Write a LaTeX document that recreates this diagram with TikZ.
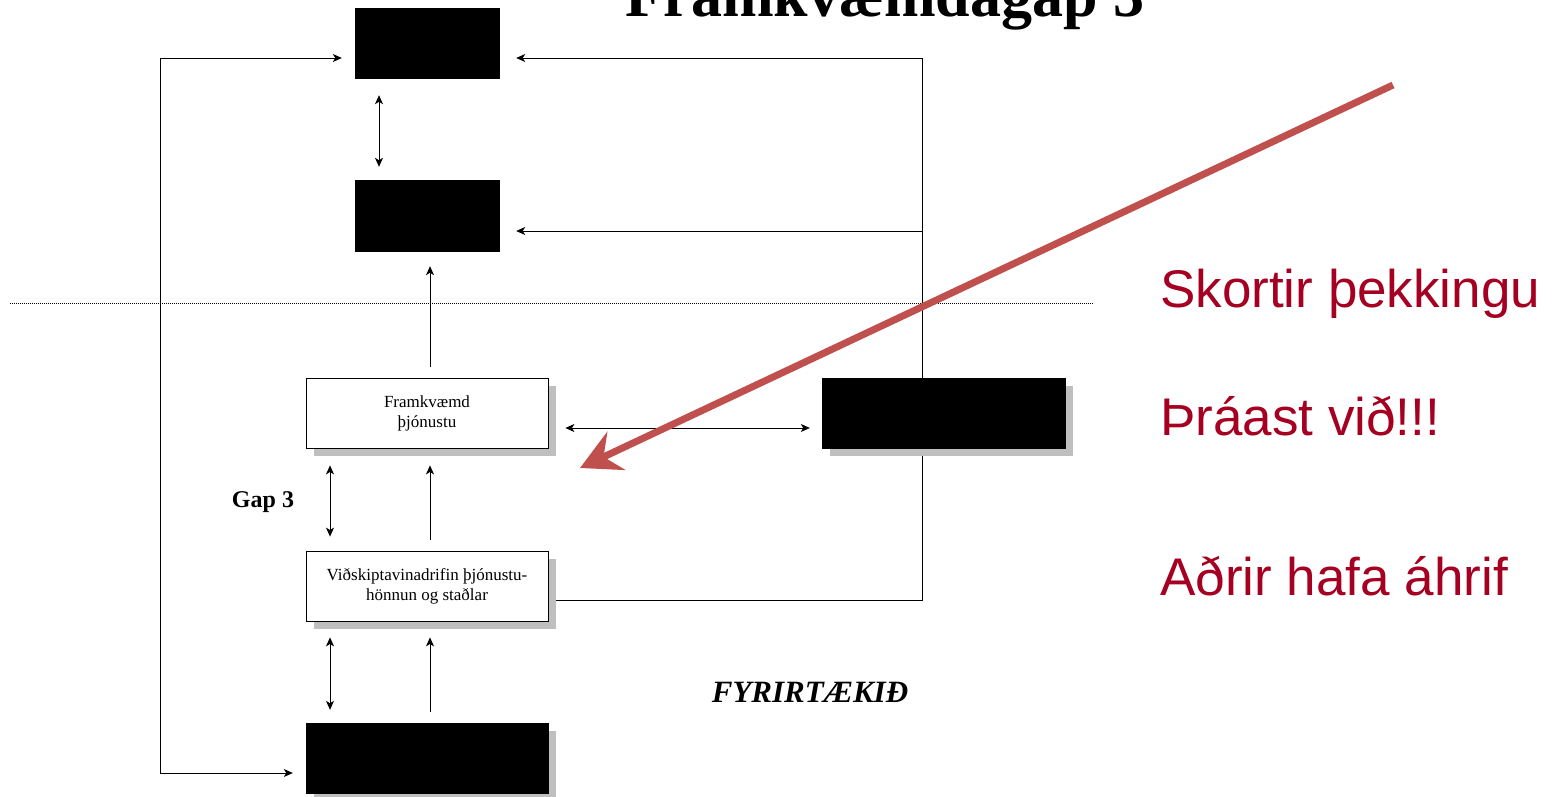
\documentclass[tikz,border=0pt]{standalone}
\usepackage{fontspec}
\setmainfont{Liberation Serif}
\newfontfamily\arialf{Liberation Sans}
\usetikzlibrary{arrows.meta,shadows}
\definecolor{redtxt}{RGB}{165,0,33}
\definecolor{redarr}{RGB}{192,80,77}
\definecolor{shadowgray}{RGB}{191,191,191}
\pgfdeclarelayer{bg}
\pgfsetlayers{bg,main}
\begin{document}
\begin{tikzpicture}[x=1pt,y=-1pt,
  arr/.style={-{Stealth[length=9pt,width=8pt,inset=2.5pt]}, line width=0.8pt},
  dbl/.style={{Stealth[length=9pt,width=8pt,inset=2.5pt]}-{Stealth[length=9pt,width=8pt,inset=2.5pt]}, line width=0.8pt},
  blackbox/.style={draw=black, fill=black, inner sep=0pt},
  whitebox/.style={draw=black, fill=white, line width=0.8pt, align=center, font=\fontsize{17}{20}\selectfont, inner sep=0pt},
  shad/.style={drop shadow={shadow xshift=8pt, shadow yshift=-8pt, fill=shadowgray, opacity=1}},
  redlabel/.style={anchor=base west, text=redtxt, font=\arialf\fontsize{53}{60}\selectfont, inner sep=0pt}
]
\useasboundingbox (0,0) rectangle (1555,797);

% title (cut off at top, as in the reference)
\node[anchor=base, font=\bfseries\fontsize{62}{70}\selectfont, inner sep=0pt] (title) at (885,17) {Framkvæmdagap 3};

% boxes
\node[blackbox, minimum width=144pt, minimum height=70pt] (A) at (427,43) {};
\node[blackbox, minimum width=144pt, minimum height=71pt] (B) at (427,215.5) {};
\node[whitebox, shad, minimum width=242pt, minimum height=70pt] (FR) at (427,413) {Framkvæmd\\þjónustu};
\node[whitebox, shad, minimum width=242pt, minimum height=70pt] (VI) at (427,586) {Viðskiptavinadrifin þjónustu-\\hönnun og staðlar};
\node[blackbox, shad, minimum width=242pt, minimum height=70pt] (D) at (427,758) {};
\node[blackbox, shad, minimum width=243pt, minimum height=70pt] (C) at (943.5,413) {};

% loop coordinates
\coordinate (RT) at (922,58);
\coordinate (RM) at (922,231);
\coordinate (RB) at (922,600);
\coordinate (LT) at (160,58);
\coordinate (LB) at (160,773);
\coordinate (DL) at (10,303);
\coordinate (DR) at (1093,303);

\begin{pgfonlayer}{bg}
\draw[arr] ([yshift=-14pt]VI.east) -- (RB) -- (RT) -- ([xshift=17pt,yshift=-15pt]A.east);
\draw[arr] (RM) -- ([xshift=17pt,yshift=-15.5pt]B.east);
\draw[dbl] ([xshift=-13pt,yshift=-15pt]A.west) -- (LT) -- (LB) -- ([xshift=-13pt,yshift=-15pt]D.west);
\draw[line width=0.6pt, dash pattern=on 1pt off 1pt] (DL) -- (DR);
\end{pgfonlayer}

% vertical connectors
\draw[dbl] ([xshift=-48pt,yshift=-17pt]A.south) -- ([xshift=-48pt,yshift=13pt]B.north);
\draw[arr] ([xshift=3pt,yshift=11pt]FR.north) -- ([xshift=3pt,yshift=-15pt]B.south);
\draw[dbl] ([xshift=17pt,yshift=-15pt]FR.east) -- ([xshift=-12pt,yshift=-15pt]C.west);
\draw[dbl] ([xshift=-97pt,yshift=-17pt]FR.south) -- ([xshift=-97pt,yshift=14pt]VI.north);
\draw[arr] ([xshift=3pt,yshift=11pt]VI.north) -- ([xshift=3pt,yshift=-17pt]FR.south);
\draw[dbl] ([xshift=-97pt,yshift=-16pt]VI.south) -- ([xshift=-97pt,yshift=13pt]D.north);
\draw[arr] ([xshift=3pt,yshift=11pt]D.north) -- ([xshift=3pt,yshift=-16pt]VI.south);

% labels
\node[font=\bfseries\fontsize{24}{28}\selectfont, inner sep=0pt] (gap) at (263,502) {Gap 3};
\node[font=\bfseries\itshape\fontsize{31}{36}\selectfont, inner sep=0pt] (fyr) at (810,692) {FYRIRTÆKIÐ};

\node[redlabel] (t1) at (1160,307) {Skortir þekkingu};
\node[redlabel] (t2) at (1160,435) {Þráast við!!!};
\node[redlabel] (t3) at (1160,595) {Aðrir hafa áhrif};

% red arrow
\coordinate (rs) at (1393,85);
\coordinate (re) at (580,468);
\draw[redarr, line width=7pt, -{Stealth[length=40pt,width=42pt,inset=14pt]}] (rs) -- (re);
\end{tikzpicture}
\end{document}
